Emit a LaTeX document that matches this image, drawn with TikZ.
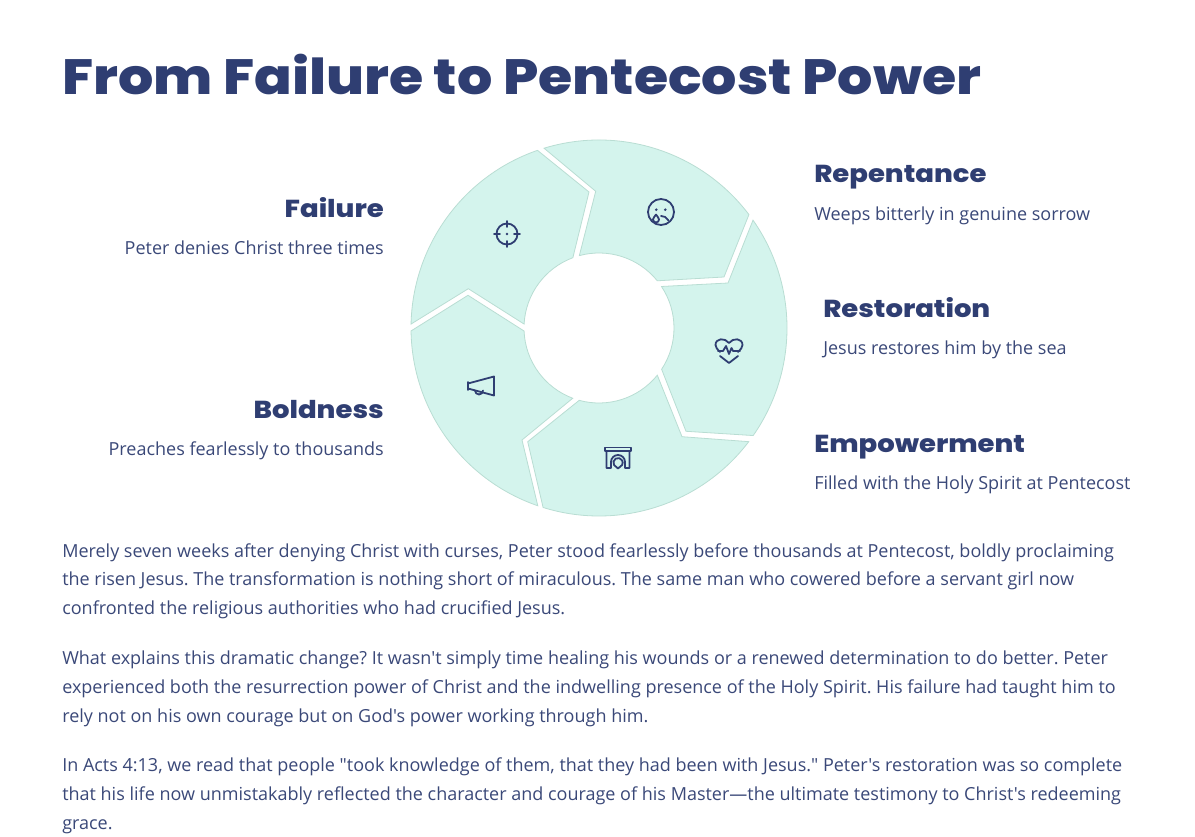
\documentclass[tikz,border=0pt]{standalone}
\usepackage{fontspec}
\setmainfont{Open Sans}[Ligatures=TeXOff]
\newfontfamily\headfont[FakeStretch=1.12]{Poppins ExtraBold}
\definecolor{navy}{HTML}{2F3E72}
\definecolor{bodyink}{HTML}{3A4878}
\definecolor{mint}{HTML}{D4F4ED}
\definecolor{mintline}{HTML}{B9DDD3}
\tikzset{
  segment/.style={draw=mintline, fill=mint, line width=0.6pt},
  icon/.style={draw=navy, line width=1.35pt, line cap=round, line join=round},
  title/.style={anchor=base west, inner sep=0pt, text=navy, font=\headfont\fontsize{37.15}{44}\selectfont},
  heading/.style={inner sep=0pt, text=navy, font=\headfont\fontsize{18.4}{24}\selectfont},
  detail/.style={inner sep=0pt, text=bodyink, font=\fontsize{13.5}{18}\selectfont},
  para/.style={anchor=north west, inner sep=0pt, align=left, text=bodyink, font=\frenchspacing\fontsize{13.5}{21.7}\selectfont},
}
\begin{document}
\begin{tikzpicture}[x=0.75pt, y=0.75pt]
    \useasboundingbox (0,0) rectangle (1195,836);
    \node[title] (maintitle) at (62,741) {From Failure to Pentecost Power};

    % ring of arrows
    \begin{scope}[shift={(599,508)}]
        \draw[segment] (109.1:188) -- (-10,136) -- (110.4:75) arc[start angle=110.4, end angle=177, radius=56.25pt]
            -- (-130.7,39.3) -- (178.8:188) arc[start angle=178.8, end angle=109.1, radius=141pt] -- cycle;
        \draw[segment] (107:188) -- (-3.3,136.7) -- (105.2:75) arc[start angle=105.2, end angle=39, radius=56.25pt]
            -- (125,51) -- (37.1:188) arc[start angle=37.1, end angle=107, radius=141pt] -- cycle;
        \draw[segment] (35:188) -- (129,45) -- (33.6:75) arc[start angle=33.6, end angle=-33.4, radius=56.25pt]
            -- (87,-103.3) -- (-34.9:188) arc[start angle=-34.9, end angle=35, radius=141pt] -- cycle;
        \draw[segment] (-37.2:188) -- (83,-108.7) -- (-39:75) arc[start angle=-39, end angle=-105.3, radius=56.25pt]
            -- (-71.3,-113.7) -- (-107.3:188) arc[start angle=-107.3, end angle=-37.2, radius=141pt] -- cycle;
        \draw[segment] (-109:188) -- (-77,-112) -- (-110.5:75) arc[start angle=-110.5, end angle=-177.7, radius=56.25pt]
            -- (-131,32.7) -- (-179.1:188) arc[start angle=-179.1, end angle=-109, radius=141pt] -- cycle;
    \end{scope}

    % icons
    \begin{scope}[shift={(507,602)}, icon]
        \draw (0,0) circle (10.5);
        \draw (0,13) -- (0,7) (0,-13) -- (0,-7) (13,0) -- (7,0) (-13,0) -- (-7,0);
        \fill[navy] (0,0) circle (1.4);
    \end{scope}
    \begin{scope}[shift={(661,624)}, icon]
        \draw (0,0) circle (13);
        \fill[navy] (-4.7,2.3) circle (1.4) (4.3,2.3) circle (1.4);
        \draw (0,-4) .. controls (3,-3.6) and (5.5,-5.5) .. (7.3,-8.3);
        \draw (-5,-2.5) .. controls (-6.5,-5) and (-8,-6) .. (-8,-7.5) arc[start angle=180, end angle=360, radius=2.25pt]
            .. controls (-2,-6) and (-3.5,-5) .. (-5,-2.5);
    \end{scope}
    \begin{scope}[shift={(729,485)}, icon]
        \draw (-9,-1) .. controls (-11.5,2) and (-13.5,3) .. (-13.5,6) .. controls (-13.5,13) and (-4,13.5) .. (0,8)
            .. controls (4,13.5) and (13.5,13) .. (13.5,6) .. controls (13.5,3) and (11.5,2) .. (9,-1);
        \draw (-11,0) -- (-6,0) -- (-3,5) -- (0,-3) -- (2.5,3) -- (4,0) -- (11,0);
        \draw (-9,-5) -- (0,-12) -- (9,-5);
    \end{scope}
    \begin{scope}[shift={(618,378)}, icon]
        \draw (-13,7) rectangle (13,10.5);
        \draw (-11.5,7) -- (-11.5,-10) -- (-7,-10) -- (-7,-4) arc[start angle=180, end angle=0, radius=5.25pt] -- (7,-10) -- (11.5,-10) -- (11.5,7);
        \draw (-4,-7) arc[start angle=210, end angle=-30, radius=3.5pt] -- (0,-10.5) -- cycle;
    \end{scope}
    \begin{scope}[shift={(481,450)}, icon]
        \draw (-13,4) -- (-13,-4);
        \draw (-13,2.5) -- (13,9.5) -- (13,-9.5) -- (-13,-2.5);
        \draw (-6,-4.5) arc[start angle=180, end angle=360, radius=3pt];
    \end{scope}

    % labels left of the ring
    \node[heading, anchor=base east] (failurehead) at (384,618) {Failure};
    \node[detail, anchor=base east] (failuretext) at (384,581) {Peter denies Christ three times};
    \node[heading, anchor=base east] (boldnesshead) at (384,417) {Boldness};
    \node[detail, anchor=base east] (boldnesstext) at (384,380) {Preaches fearlessly to thousands};

    % labels right of the ring
    \node[heading, anchor=base west] (repentancehead) at (814,653) {Repentance};
    \node[detail, anchor=base west] (repentancetext) at (814,615) {Weeps bitterly in genuine sorrow};
    \node[heading, anchor=base west] (restorationhead) at (823,518.5) {Restoration};
    \node[detail, anchor=base west] (restorationtext) at (823,481) {Jesus restores him by the sea};
    \node[heading, anchor=base west] (empowermenthead) at (814,383.5) {Empowerment};
    \node[detail, anchor=base west] (empowermenttext) at (814,346) {Filled with the Holy Spirit at Pentecost};

    % body text
    \node[para] (paraone) at (62,293) {Merely seven weeks after denying Christ with curses, Peter stood fearlessly before thousands at Pentecost, boldly proclaiming\\
        the risen Jesus. The transformation is nothing short of miraculous. The same man who cowered before a servant girl now\\
        confronted the religious authorities who had crucified Jesus.};
    \node[para] (paratwo) at (62,185) {What explains this dramatic change? It wasn't simply time healing his wounds or a renewed determination to do better. Peter\\
        experienced both the resurrection power of Christ and the indwelling presence of the Holy Spirit. His failure had taught him to\\
        rely not on his own courage but on God's power working through him.};
    \node[para] (parathree) at (62,78.5) {In Acts 4:13, we read that people "took knowledge of them, that they had been with Jesus." Peter's restoration was so complete\\
        that his life now unmistakably reflected the character and courage of his Master—the ultimate testimony to Christ's redeeming\\
        grace.};
\end{tikzpicture}
\end{document}
